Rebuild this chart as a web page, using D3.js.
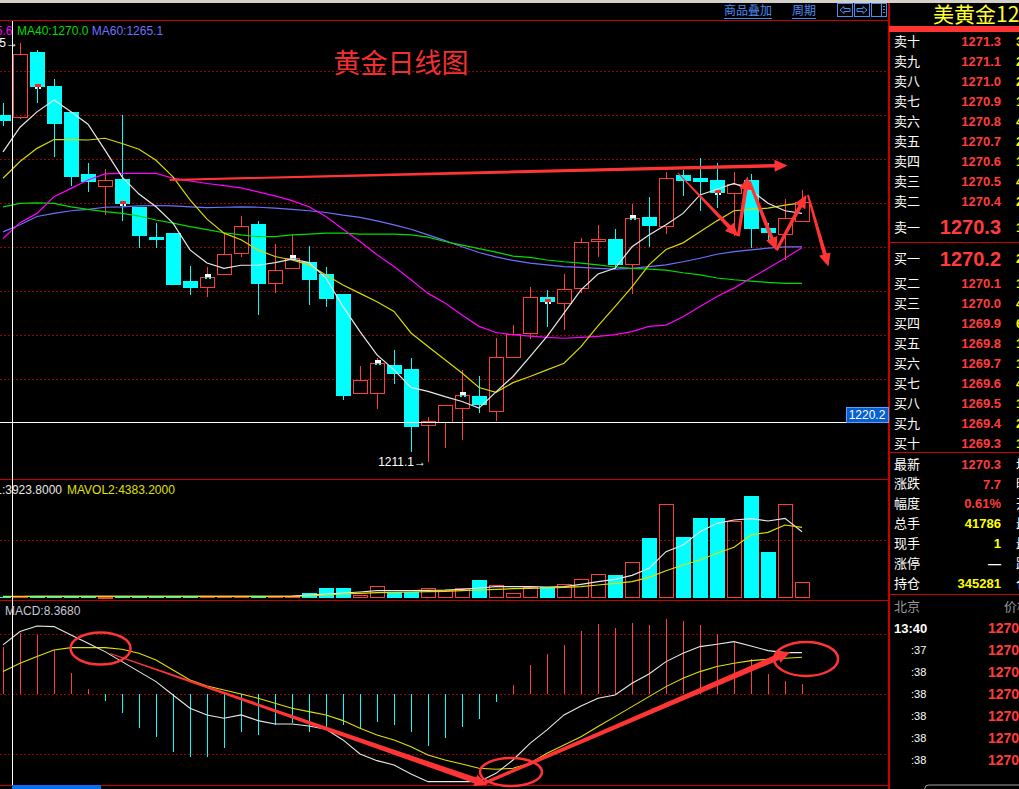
<!DOCTYPE html>
<html><head><meta charset="utf-8">
<script src="https://cdn.jsdelivr.net/npm/d3@7/dist/d3.min.js"></script>
<style>
html,body{margin:0;padding:0;background:#000;overflow:hidden}
svg{display:block}
text{font-family:"Liberation Sans",Arial,sans-serif}
.cjk{font-family:"Noto Sans CJK SC","Noto Sans",sans-serif}
</style></head><body>
<svg id="c" width="1019" height="789"></svg>
<script>
// ---- daily bars (US gold Dec contract) ----
const opens  = [1290.1,1289.6,1304.4,1296.7,1290.8,1276.7,1273.9,1275.5,1269.2,1262.3,1263.2,1252.3,1251.0,1253.9,1258.7,1265.3,1251.9,1255.3,1256.7,1253.9,1249.4,1226.9,1226.9,1233.3,1232.3,1219.5,1220.3,1223.5,1226.2,1222.8,1235.0,1240.5,1248.7,1247.3,1250.8,1261.4,1261.9,1256.2,1266.9,1264.8,1276.4,1275.8,1275.3,1272.3,1275.3,1264.4,1263.0,1266.0];
const highs  = [1292.8,1306.5,1304.8,1298.2,1290.8,1279.2,1277.8,1290.1,1269.2,1265.5,1263.2,1255.8,1255.5,1263.2,1267.1,1266.0,1260.8,1263.0,1260.3,1255.5,1249.4,1233.0,1234.8,1236.7,1234.8,1221.4,1224.2,1232.1,1230.8,1239.4,1242.3,1251.0,1250.3,1253.9,1262.1,1265.1,1264.2,1269.8,1271.4,1277.1,1277.6,1280.3,1279.2,1277.1,1276.7,1265.5,1271.0,1273.0];
const lows   = [1287.6,1289.2,1292.8,1280.5,1273.9,1272.6,1267.3,1266.0,1259.8,1259.8,1251.4,1249.2,1248.7,1253.9,1257.8,1244.6,1249.6,1255.3,1246.9,1246.4,1225.3,1226.9,1223.3,1228.9,1213.5,1211.1,1214.4,1216.2,1222.3,1220.4,1235.0,1239.2,1241.9,1241.2,1249.6,1257.8,1255.1,1249.4,1260.1,1263.0,1271.7,1268.3,1268.9,1262.6,1259.8,1261.2,1257.1,1266.0];
const closes = [1288.8,1303.9,1296.4,1288.0,1276.0,1274.8,1275.3,1269.8,1262.6,1261.7,1251.4,1250.8,1253.3,1258.5,1264.8,1251.7,1254.8,1257.6,1252.6,1248.3,1226.2,1229.8,1233.7,1231.2,1219.2,1220.4,1224.2,1226.4,1224.2,1235.1,1240.3,1248.7,1247.6,1250.5,1261.2,1261.9,1256.0,1266.7,1264.8,1275.8,1275.1,1274.8,1272.3,1274.4,1264.2,1263.2,1266.7,1270.3];

// moving averages of the close
const ma5  = [1281.7,1287.3,1290.8,1293.5,1290.8,1288.0,1282.1,1276.0,1272.1,1269.2,1265.5,1259.4,1256.4,1255.2,1255.9,1255.9,1256.5,1257.3,1256.5,1253.0,1246.5,1240.8,1235.5,1232.1,1228.1,1227.2,1226.0,1224.9,1223.4,1227.1,1230.6,1235.1,1239.7,1245.0,1250.3,1253.9,1255.2,1260.1,1262.8,1265.1,1267.7,1271.9,1273.2,1274.5,1273.0,1270.0,1268.3,1267.7];
const ma10 = [1275.7,1279.5,1282.5,1284.5,1284.5,1284.4,1284.8,1283.6,1282.3,1279.8,1276.0,1270.8,1266.4,1263.2,1261.7,1259.4,1257.9,1257.1,1256.0,1253.7,1251.4,1249.5,1247.6,1245.4,1240.5,1237.4,1234.4,1231.4,1228.1,1227.0,1229.2,1230.6,1232.1,1233.6,1237.4,1242.1,1246.5,1251.0,1256.0,1259.5,1261.0,1263.5,1266.0,1268.3,1268.6,1268.9,1269.6,1270.1];
const ma20 = [1262.0,1265.6,1267.7,1271.5,1273.4,1275.3,1276.7,1276.8,1276.8,1276.8,1275.7,1275.1,1274.5,1274.0,1273.5,1272.6,1271.7,1270.6,1269.2,1267.0,1264.1,1261.3,1258.3,1255.6,1252.6,1249.5,1247.3,1244.6,1242.0,1240.6,1240.1,1239.8,1239.5,1239.3,1239.5,1239.7,1240.1,1240.8,1242.0,1242.3,1244.2,1246.5,1248.8,1250.7,1253.0,1255.2,1257.5,1259.9];
const ma40 = [1269.2,1270.0,1270.1,1270.0,1269.2,1268.6,1268.1,1267.7,1267.1,1266.2,1265.5,1264.7,1264.0,1263.3,1262.8,1262.4,1262.4,1262.8,1263.0,1263.2,1263.2,1263.0,1263.0,1263.0,1262.8,1262.3,1261.3,1260.5,1259.7,1258.9,1258.0,1257.7,1257.1,1256.7,1256.4,1256.0,1255.5,1255.2,1255.0,1254.8,1254.2,1253.7,1253.0,1252.6,1252.3,1252.0,1251.8,1251.8];
const ma60 = [1263.5,1265.1,1267.0,1267.7,1268.3,1268.6,1269.1,1269.2,1269.4,1269.5,1269.4,1269.2,1269.0,1269.1,1269.2,1269.1,1268.9,1268.6,1268.3,1267.9,1267.3,1266.8,1266.0,1265.1,1264.1,1262.8,1261.5,1260.1,1258.8,1257.8,1257.0,1256.4,1256.0,1255.6,1255.4,1255.2,1255.0,1255.2,1255.6,1256.0,1256.7,1257.5,1258.4,1259.0,1259.4,1259.8,1260.1,1260.1];

// volume (lots) with its two averages
const volume = [3600,4100,3800,4400,3900,4300,3700,4200,4600,4000,4800,4500,4200,3900,4700,5100,4400,5200,13000,26000,26000,7800,30400,15600,15600,25200,20800,25200,46800,33000,12200,29400,29400,35600,48600,61600,59800,92800,156000,243600,158600,208000,208000,200200,265200,119600,243600,41786];
const mavol1 = [3900,3924,4000,4100,4050,4100,4050,4100,4200,4150,4250,4400,4400,4300,4400,4500,4600,4700,7800,10400,13000,15600,19000,19000,19000,20000,20800,22600,26000,29400,29400,29400,28600,29400,35600,42400,48600,59000,77200,120400,137800,172400,194200,202800,206200,200200,207200,172400];
const mavol2 = [4350,4383,4350,4300,4250,4200,4150,4150,4150,4200,4200,4250,4300,4350,4400,4400,4450,4500,5200,7800,10400,12200,13800,14800,15600,16400,17400,19000,20800,22600,24200,25200,26000,27800,29400,33800,38200,42400,53800,71000,85800,98800,116200,131800,163800,170800,189800,183800];

// MACD (DIF, DEA, bar)
const dif  = [6.77,8.60,9.37,9.28,8.14,7.00,5.85,4.48,3.11,1.74,-0.09,-1.92,-2.83,-3.29,-2.83,-3.61,-4.07,-4.07,-4.34,-4.80,-6.26,-8.18,-9.10,-9.69,-10.93,-11.98,-11.98,-11.98,-11.98,-10.84,-9.01,-6.72,-4.89,-2.83,-1.60,-0.55,-0.09,1.51,2.79,4.48,5.62,6.54,6.86,7.22,6.63,5.99,5.72,5.72];
const dea  = [3.11,4.25,5.17,6.08,6.40,6.40,6.40,6.17,5.62,4.71,3.34,1.97,1.14,0.59,0.05,-0.55,-1.23,-1.92,-2.38,-2.83,-3.61,-4.66,-5.58,-6.26,-7.18,-8.32,-9.01,-9.56,-10.15,-10.29,-10.15,-9.47,-8.09,-6.95,-5.81,-4.43,-3.06,-1.69,-0.32,1.05,2.19,3.11,3.80,4.25,4.62,4.80,4.94,5.08];
const macd = [6.54,8.368,8.13,6.08,2.98,0.69,-0.86,-2.61,-4.66,-5.90,-7.86,-8.64,-8.55,-7.41,-5.12,-5.58,-4.21,-3.98,-5.12,-4.43,-4.21,-4.66,-3.74,-4.21,-5.12,-7.09,-6.04,-4.53,-3.43,-1.00,1.28,4.02,5.53,6.76,8.68,9.64,9.05,9.84,9.51,10.33,10.11,9.51,8.27,7.09,4.80,2.78,1.82,1.41];

// grid levels
const priceGrid = [1230,1240,1250,1260,1270,1280,1290,1300];
const volGrid = [150000];
const macdGrid = [8.23,0,-8.23];

// info-mine markers
const markerIdx = [2,7,12,17,22,27,32,37,42];

// hand-drawn annotations, in (bar index, value) terms
const priceArrows = [
  {from:[9.8,1275.3], to:[46.15,1278.6], w0:1, w1:1.8},
  {from:[39.7,1276.9], to:[43.25,1262.5], w0:0.5, w1:2},
  {from:[43.25,1262.5], to:[43.8,1276.1], w0:1.5, w1:2},
  {from:[43.9,1275.0], to:[45.5,1259.3], w0:1.5, w1:2},
  {from:[45.5,1259.3], to:[47.25,1271.9], w0:1.5, w1:2},
  {from:[47.35,1271.9], to:[48.55,1255.6], w0:1, w1:2}
];
const macdArrows = [
  {from:[6.3,5.6], to:[28.5,-12.4], w0:0.5, w1:3},
  {from:[28.3,-12.2], to:[46.3,5.8], w0:1.5, w1:3}
];
const macdRings = [
  {c:[5.74,6.28], rx:30, ry:16},
  {c:[29.88,-10.65], rx:31, ry:14},
  {c:[47.24,4.84], rx:32, ry:17}
];

// order book and quote panel
const askLabels = ["卖十","卖九","卖八","卖七","卖六","卖五","卖四","卖三","卖二"];
const askPrices = ["1271.3","1271.1","1271.0","1270.9","1270.8","1270.7","1270.6","1270.5","1270.4"];
const askVols = ["3","2","2","1","4","2","1","4","2"];
const bidLabels = ["买二","买三","买四","买五","买六","买七","买八","买九","买十"];
const bidPrices = ["1270.1","1270.0","1269.9","1269.8","1269.7","1269.6","1269.5","1269.4","1269.3"];
const bidVols = ["1","4","6","1","1","4","1","2","1"];
const statLabels = ["最新","涨跌","幅度","总手","现手","涨停","持仓"];
const statValues = ["1270.3","7.7","0.61%","41786","1","—","345281"];
const statColors = ["#ff3c3c","#ff3c3c","#ff3c3c","#ffff00","#ffff00","#ffffff","#ffff00"];
const statSide = ["均","昨","开","最","最","跌","仓"];
const tickTimes = [":37",":38",":38",":38",":38",":38"];
const tickPrices = ["1270","1270","1270","1270","1270","1270"];

const W = 1019, H = 789, CW = 888;
const RED = "#ff3c3c", CYAN = "#00ffff", FRAME = "#c80000", GRID = "#9a0000", ANNO = "#ff3434";

const svg = d3.select("#c");
svg.append("rect").attr("width",W).attr("height",H).attr("fill","#000");

const x = d3.scaleLinear().domain([0,47]).range([3,802]);
const yP = d3.scaleLinear().domain([1207.5,1311.7]).range([478,20]);
const yV = d3.scaleLinear().domain([0,308600]).range([598,479.3]);
const yM = d3.scaleLinear().domain([-12.44,12.93]).range([785,600]);
const idx = d3.range(closes.length);

const clip = svg.append("defs");
clip.append("clipPath").attr("id","cp").append("rect").attr("x",0).attr("y",21).attr("width",CW).attr("height",457);
clip.append("clipPath").attr("id","cv").append("rect").attr("x",0).attr("y",481).attr("width",CW).attr("height",118);
clip.append("clipPath").attr("id","cm").append("rect").attr("x",0).attr("y",602).attr("width",CW).attr("height",183);

// ---- grid lines via axes ----
function grid(scale, vals, cls){
  const g = svg.append("g").attr("transform","translate(0,0)")
    .call(d3.axisRight(scale).tickValues(vals).tickSize(CW).tickFormat(""));
  g.select(".domain").remove();
  g.selectAll("line").attr("stroke",GRID).attr("stroke-dasharray","2,2").attr("shape-rendering","crispEdges");
  g.selectAll(".tick").attr("transform",d=>`translate(0,${Math.round(scale(d))+0.5})`);
  return g;
}
grid(yP, priceGrid);
grid(yV, volGrid);
grid(yM, macdGrid);

// ---- frames ----
svg.append("rect").attr("x",0).attr("y",0).attr("width",W).attr("height",3).attr("fill","#d4d0c8");
const frame = svg.append("g").attr("stroke",FRAME).attr("shape-rendering","crispEdges");
[[0,20.5,CW,20.5],[0,479.5,CW,479.5],[0,600.5,CW,600.5],[0,785.5,CW,785.5]].forEach(l=>
  frame.append("line").attr("x1",l[0]).attr("y1",l[1]).attr("x2",l[2]).attr("y2",l[3]).attr("stroke-width",1.5));
frame.append("line").attr("x1",888.5).attr("y1",3).attr("x2",888.5).attr("y2",H).attr("stroke-width",2);

// ---- candles ----
const pc = svg.append("g").attr("clip-path","url(#cp)");
idx.forEach(i=>{
  const cx = Math.round(x(i)), up = closes[i] >= opens[i];
  const top = yP(Math.max(opens[i],closes[i])), bot = yP(Math.min(opens[i],closes[i]));
  const col = up ? RED : CYAN;
  if(up){
    pc.append("line").attr("x1",cx+0.5).attr("x2",cx+0.5).attr("y1",yP(highs[i])).attr("y2",top).attr("stroke",col).attr("shape-rendering","crispEdges");
    pc.append("line").attr("x1",cx+0.5).attr("x2",cx+0.5).attr("y1",bot).attr("y2",yP(lows[i])).attr("stroke",col).attr("shape-rendering","crispEdges");
    pc.append("rect").attr("x",cx-6.5).attr("y",Math.round(top)+0.5).attr("width",14).attr("height",Math.max(1,Math.round(bot-top)))
      .attr("fill","none").attr("stroke",col).attr("stroke-width",1.4).attr("shape-rendering","crispEdges");
  } else {
    pc.append("line").attr("x1",cx+0.5).attr("x2",cx+0.5).attr("y1",yP(highs[i])).attr("y2",yP(lows[i])).attr("stroke",col).attr("stroke-width",1.3).attr("shape-rendering","crispEdges");
    pc.append("rect").attr("x",cx-7).attr("y",Math.round(top)).attr("width",15).attr("height",Math.max(2,Math.round(bot-top)))
      .attr("fill",col).attr("shape-rendering","crispEdges");
  }
});

// markers on every fifth bar
markerIdx.forEach(i=>{
  const cx = Math.round(x(i)), cy = Math.round(yP(closes[i]));
  const up = closes[i] >= opens[i];
  const g = pc.append("g").attr("shape-rendering","crispEdges");
  g.append("rect").attr("x",cx-2).attr("y",cy-3).attr("width",6).attr("height",3).attr("fill",up?"#ffffff":"#ff2020");
  g.append("rect").attr("x",cx-2).attr("y",cy).attr("width",2).attr("height",2).attr("fill",up?CYAN:"#ffffff");
  g.append("rect").attr("x",cx+2).attr("y",cy).attr("width",2).attr("height",2).attr("fill",up?CYAN:"#ffffff");
});

// moving average lines
const maDefs = [[ma60,"#7070ff"],[ma40,"#00dd00"],[ma20,"#ff00ff"],[ma10,"#d8d800"],[ma5,"#e8e8e8"]];
maDefs.forEach(([arr,col])=>{
  pc.append("path").attr("d",d3.line().x((d,i)=>x(i)).y(d=>yP(d))(arr))
    .attr("fill","none").attr("stroke",col).attr("stroke-width",1.2);
});

// high/low tags
const hiI = d3.maxIndex(highs), loI = d3.minIndex(lows);
svg.append("text").attr("x",x(hiI)-2).attr("y",yP(highs[hiI])).attr("dy","0.35em").attr("text-anchor","end")
  .attr("fill","#ffffff").attr("font-size",12).text(highs[hiI].toFixed(1)+"→");
svg.append("text").attr("x",x(loI)-2).attr("y",yP(lows[loI])).attr("dy","0.35em").attr("text-anchor","end")
  .attr("fill","#ffffff").attr("font-size",12).text(lows[loI].toFixed(1)+"→");

// ---- volume ----
const vc = svg.append("g").attr("clip-path","url(#cv)");
idx.forEach(i=>{
  const cx = Math.round(x(i)), up = closes[i] >= opens[i];
  const t = yV(volume[i]), h = yV(0) - t;
  if(up){
    vc.append("rect").attr("x",cx-6.5).attr("y",Math.round(t)+0.5).attr("width",14).attr("height",Math.max(1,Math.round(h)-1))
      .attr("fill","none").attr("stroke",RED).attr("stroke-width",1.4).attr("shape-rendering","crispEdges");
  } else {
    vc.append("rect").attr("x",cx-7).attr("y",Math.round(t)).attr("width",15).attr("height",Math.max(1,Math.round(h)))
      .attr("fill",CYAN).attr("shape-rendering","crispEdges");
  }
});
[[mavol1,"#e8e8e8"],[mavol2,"#e0e000"]].forEach(([arr,col])=>{
  vc.append("path").attr("d",d3.line().x((d,i)=>x(i)).y(d=>yV(d))(arr))
    .attr("fill","none").attr("stroke",col).attr("stroke-width",1.2);
});

// ---- MACD ----
const mc = svg.append("g").attr("clip-path","url(#cm)");
idx.forEach(i=>{
  const cx = Math.round(x(i))+0.5;
  mc.append("line").attr("x1",cx).attr("x2",cx).attr("y1",yM(0)).attr("y2",yM(macd[i]))
    .attr("stroke",macd[i]>=0?RED:CYAN).attr("stroke-width",1).attr("shape-rendering","crispEdges");
});
[[dea,"#e0e000"],[dif,"#e8e8e8"]].forEach(([arr,col])=>{
  mc.append("path").attr("d",d3.line().x((d,i)=>x(i)).y(d=>yM(d))(arr))
    .attr("fill","none").attr("stroke",col).attr("stroke-width",1.1);
});

// ---- annotations ----
function arrow(g, sx, sy, tx, ty, w0, w1){
  const dx = tx-sx, dy = ty-sy, L = Math.hypot(dx,dy), ux = dx/L, uy = dy/L, nx = -uy, ny = ux;
  const hl = 13, hw = 6, bx = tx-ux*hl, by = ty-uy*hl;
  const pts = [[sx+nx*w0,sy+ny*w0],[bx+nx*w1,by+ny*w1],[bx+nx*hw,by+ny*hw],[tx,ty],
               [bx-nx*hw,by-ny*hw],[bx-nx*w1,by-ny*w1],[sx-nx*w0,sy-ny*w0]];
  g.append("path").attr("d","M"+pts.map(p=>p.join(",")).join("L")+"Z").attr("fill",ANNO);
}
const ag = svg.append("g");
priceArrows.forEach(a=>arrow(ag, x(a.from[0]), yP(a.from[1]), x(a.to[0]), yP(a.to[1]), a.w0, a.w1));
const mg = svg.append("g");
macdArrows.forEach(a=>arrow(mg, x(a.from[0]), yM(a.from[1]), x(a.to[0]), yM(a.to[1]), a.w0, a.w1));
macdRings.forEach(r=>mg.append("ellipse").attr("cx",x(r.c[0])).attr("cy",yM(r.c[1])).attr("rx",r.rx).attr("ry",r.ry)
  .attr("fill","none").attr("stroke",ANNO).attr("stroke-width",2.5));

// ---- crosshair ----
const chX = 12.5, chPrice = 1220.2;
svg.append("line").attr("x1",chX).attr("x2",chX).attr("y1",21).attr("y2",785).attr("stroke","#ffffff").attr("shape-rendering","crispEdges");
svg.append("line").attr("x1",0).attr("x2",CW).attr("y1",Math.round(yP(chPrice))+0.5).attr("y2",Math.round(yP(chPrice))+0.5)
  .attr("stroke","#ffffff").attr("shape-rendering","crispEdges");
svg.append("rect").attr("x",846).attr("y",Math.round(yP(chPrice))-15).attr("width",42).attr("height",15)
  .attr("fill","#0860d0").attr("stroke","#5aa0ff").attr("shape-rendering","crispEdges");
svg.append("text").attr("x",867).attr("y",Math.round(yP(chPrice))-7.5).attr("dy","0.35em").attr("text-anchor","middle")
  .attr("fill","#ffffff").attr("font-size",12).text(chPrice.toFixed(1));
svg.append("rect").attr("x",12).attr("y",785).attr("width",89).attr("height",4).attr("fill","#0a6ef0");

// ---- panel captions ----
function caption(parts, y0, xEnd){
  const t = svg.append("text").attr("y",y0).attr("dy","0.35em").attr("font-size",12);
  parts.forEach(p=>t.append("tspan").attr("fill",p[1]).text(p[0]));
  return t;
}
svg.append("text").attr("x",12.5).attr("y",31).attr("dy","0.35em").attr("text-anchor","end").attr("font-size",12)
  .attr("fill","#ff00ff").text("MA20:1265.6");
svg.append("text").attr("x",17).attr("y",31).attr("dy","0.35em").attr("font-size",12)
  .call(t=>{t.append("tspan").attr("fill","#00dd00").text("MA40:1270.0 ");
            t.append("tspan").attr("fill","#7070ff").text("MA60:1265.1");});
svg.append("text").attr("x",62).attr("y",490).attr("dy","0.35em").attr("text-anchor","end").attr("font-size",12)
  .attr("fill","#e8e8e8").text("MAVOL1:3923.8000");
svg.append("text").attr("x",67).attr("y",490).attr("dy","0.35em").attr("font-size",12)
  .attr("fill","#e0e000").text("MAVOL2:4383.2000");
svg.append("text").attr("x",5).attr("y",611).attr("dy","0.35em").attr("font-size",12)
  .attr("fill","#c8c8d8").text("MACD:8.3680");

svg.append("text").attr("class","cjk").attr("x",401).attr("y",64).attr("dy","0.35em").attr("text-anchor","middle")
  .attr("font-size",27).attr("fill","#f03030").text("黄金日线图");

// ---- toolbar ----
const tb = svg.append("g");
[["商品叠加",724],["周期",792]].forEach(([s,x0])=>{
  const t = tb.append("text").attr("class","cjk").attr("x",x0).attr("y",11).attr("dy","0.35em").attr("font-size",12)
    .attr("fill","#4a8cf0").text(s);
  tb.append("line").attr("x1",x0).attr("x2",x0+s.length*12).attr("y1",18.5).attr("y2",18.5).attr("stroke","#4a8cf0").attr("shape-rendering","crispEdges");
});
[837,854,871].forEach((bx,k)=>{
  tb.append("rect").attr("x",bx+0.5).attr("y",3.5).attr("width",15).attr("height",13).attr("fill","none").attr("stroke","#4a8cf0").attr("shape-rendering","crispEdges");
  if(k===0) tb.append("path").attr("d",`M${bx+3},10 L${bx+7},6.5 L${bx+7},8.5 L${bx+13},8.5 L${bx+13},11.5 L${bx+7},11.5 L${bx+7},13.5Z`).attr("fill","none").attr("stroke","#4a8cf0");
  if(k===1) tb.append("path").attr("d",`M${bx+13},10 L${bx+9},6.5 L${bx+9},8.5 L${bx+3},8.5 L${bx+3},11.5 L${bx+9},11.5 L${bx+9},13.5Z`).attr("fill","none").attr("stroke","#4a8cf0");
  if(k===2){
    tb.append("line").attr("x1",bx+10.5).attr("x2",bx+10.5).attr("y1",4).attr("y2",16).attr("stroke","#4a8cf0");
    [6.5,9.5,12.5].forEach(yy=>tb.append("line").attr("x1",bx+12).attr("x2",bx+14).attr("y1",yy).attr("y2",yy).attr("stroke","#4a8cf0"));
  }
});

// ---- right quote panel ----
const rp = svg.append("g");
rp.append("text").attr("class","cjk").attr("x",933).attr("y",15).attr("dy","0.35em").attr("font-size",21).attr("fill","#ffff30").text("美黄金1212");
rp.append("rect").attr("x",889).attr("y",26).attr("width",130).attr("height",6).attr("fill","#ff3232");
const LX = 894, PX = 1001, VX = 1016;
function row(y0, label, price, vol, big){
  rp.append("text").attr("class","cjk").attr("x",LX).attr("y",y0).attr("dy","0.35em").attr("font-size",13).attr("fill","#ffffff").text(label);
  rp.append("text").attr("x",PX).attr("y",y0).attr("dy","0.36em").attr("text-anchor","end").attr("font-weight","bold")
    .attr("font-size",big?20:13).attr("fill","#ff3c3c").text(price);
  rp.append("text").attr("x",VX).attr("y",y0).attr("dy","0.36em").attr("font-weight","bold").attr("font-size",13).attr("fill","#ffff00").text(vol);
}
askLabels.forEach((l,k)=>row(41.7+20*k, l, askPrices[k], askVols[k], false));
row(227, "卖一", "1270.3", "1", true);
rp.append("line").attr("x1",889).attr("x2",W).attr("y1",242.5).attr("y2",242.5).attr("stroke",FRAME).attr("shape-rendering","crispEdges");
row(258.5, "买一", "1270.2", "2", true);
bidLabels.forEach((l,k)=>row(283.3+20*k, l, bidPrices[k], bidVols[k], false));
rp.append("line").attr("x1",889).attr("x2",W).attr("y1",452.5).attr("y2",452.5).attr("stroke",FRAME).attr("shape-rendering","crispEdges");
statLabels.forEach((l,k)=>{
  const y0 = 464+19.9*k;
  rp.append("text").attr("class","cjk").attr("x",LX).attr("y",y0).attr("dy","0.35em").attr("font-size",13).attr("fill","#ffffff").text(l);
  rp.append("text").attr("x",PX).attr("y",y0).attr("dy","0.36em").attr("text-anchor","end").attr("font-weight","bold").attr("font-size",13).attr("fill",statColors[k]).text(statValues[k]);
  rp.append("text").attr("class","cjk").attr("x",VX).attr("y",y0).attr("dy","0.35em").attr("font-size",13).attr("fill","#ffffff").text(statSide[k]);
});
rp.append("line").attr("x1",889).attr("x2",W).attr("y1",594.5).attr("y2",594.5).attr("stroke",FRAME).attr("shape-rendering","crispEdges");
rp.append("text").attr("class","cjk").attr("x",LX).attr("y",606).attr("dy","0.35em").attr("font-size",13).attr("fill","#9a9a9a").text("北京");
rp.append("text").attr("class","cjk").attr("x",1004).attr("y",606).attr("dy","0.35em").attr("font-size",13).attr("fill","#9a9a9a").text("价格");
rp.append("text").attr("x",LX).attr("y",628).attr("dy","0.36em").attr("font-weight","bold").attr("font-size",13).attr("fill","#ffffff").text("13:40");
rp.append("text").attr("x",988).attr("y",628).attr("dy","0.36em").attr("font-weight","bold").attr("font-size",14).attr("fill","#ff3c3c").text("1270.3");
tickTimes.forEach((t,k)=>{
  const y0 = 650+22*k;
  rp.append("text").attr("x",911).attr("y",y0).attr("dy","0.36em").attr("font-size",11).attr("fill","#ffffff").text(t);
  rp.append("text").attr("x",988).attr("y",y0).attr("dy","0.36em").attr("font-weight","bold").attr("font-size",14).attr("fill","#ff3c3c").text(tickPrices[k]+".3");
});
rp.append("path").attr("d","M925,789 L925,788 Q925,785 929,785 L1019,785").attr("fill","none").attr("stroke","#a0a0a0");
</script>
</body></html>
